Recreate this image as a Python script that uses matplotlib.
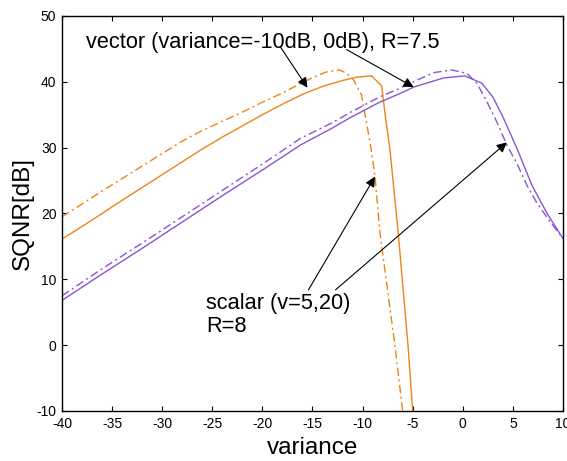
import matplotlib
matplotlib.use("Agg")
import matplotlib.pyplot as plt

plt.rcParams['font.family'] = ['Liberation Sans', 'DejaVu Sans']

# vector quantizer, variance=-10dB (orange solid)
vec_m10_x = [-40, -37, -34.2, -30, -26.2, -24, -22, -20, -18, -16, -14, -12,
             -10.6, -9.1, -8.1, -7.7, -7.26, -6.44, -5.44, -5.0]
vec_m10_y = [16.1, 19.0, 21.8, 25.9, 29.6, 31.6, 33.3, 35.0, 36.6, 38.1, 39.3, 40.2,
             40.7, 40.9, 39.4, 34.5, 29.6, 17.0, -0.5, -10.0]

# scalar quantizer v=5 (orange dash-dot)
sca_5_x = [-40, -36, -32, -28, -26, -24, -22, -20, -18, -16, -14.6, -13.6,
           -12.3, -11.6, -10.9, -10.1, -9.76, -9.26, -8.76, -8.26, -7.6, -6.77, -6.0]
sca_5_y = [19.5, 23.4, 27.2, 31.0, 32.6, 34.0, 35.4, 36.9, 38.3, 39.9, 40.9, 41.5,
           41.8, 41.3, 40.3, 38.0, 35.0, 30.9, 25.7, 17.0, 9.4, 0.0, -10.0]

# vector quantizer, variance=0dB (purple solid)
vec_0_x = [-40, -36, -32, -28, -24, -20, -16.2, -13, -11.3, -8.3,
           -6.3, -4.9, -1.9, 0.2, 1.9, 3.0, 4.0, 5.4, 6.9, 7.7, 8.5, 10]
vec_0_y = [6.8, 10.8, 14.7, 18.7, 22.7, 26.6, 30.4, 33.0, 34.5, 36.9,
           38.2, 39.2, 40.6, 40.9, 39.8, 37.7, 34.7, 29.9, 24.3, 22.0, 19.8, 16.2]

# scalar quantizer v=20 (purple dash-dot)
sca_20_x = [-40, -36, -32, -28, -24, -20, -16.2, -13, -11.3, -8.3, -6.3, -4.94,
            -2.9, -1.1, 0.4, 1.4, 2.4, 3.4, 4.4, 5.4, 6.4, 7.4, 8.5, 10]
sca_20_y = [7.5, 11.6, 15.5, 19.5, 23.5, 27.5, 31.4, 33.8, 35.3, 37.7, 39.0, 40.0,
            41.4, 41.8, 41.3, 39.8, 37.0, 33.9, 30.4, 27.6, 24.3, 21.6, 19.2, 16.2]

x_ticks = [-40, -35, -30, -25, -20, -15, -10, -5, 0, 5, 10]
y_ticks = [-10, 0, 10, 20, 30, 40, 50]

orange = '#EE8418'
purple = '#8A55D4'
dashdot = (0, (6, 2.5, 1.5, 2.5))

fig = plt.figure(figsize=(5.67, 4.61), dpi=100)
ax = fig.add_axes([0.1093, 0.1085, 0.8836, 0.8568])

ax.plot(vec_m10_x, vec_m10_y, color=orange, lw=1.0)
ax.plot(sca_5_x, sca_5_y, color=orange, lw=1.0, linestyle=dashdot)
ax.plot(vec_0_x, vec_0_y, color=purple, lw=1.0)
ax.plot(sca_20_x, sca_20_y, color=purple, lw=1.0, linestyle=dashdot)

ax.set_xlim(-40, 10)
ax.set_ylim(-10, 50)
ax.set_xticks(x_ticks)
ax.set_yticks(y_ticks)
ax.set_xticklabels([str(v) for v in x_ticks])
ax.set_yticklabels([str(v) for v in y_ticks])
ax.tick_params(direction='in', length=3.5, width=0.8, top=True, right=True,
               labelsize=10, pad=4)
for s in ax.spines.values():
    s.set_linewidth(1.0)

ax.set_xlabel('variance', fontsize=17.5, labelpad=5)
ax.set_ylabel('SQNR[dB]', fontsize=17.5, labelpad=2)

# annotations
arrow = dict(arrowstyle='-|>', color='black', lw=0.8, mutation_scale=15,
             shrinkA=0, shrinkB=0)
ax.text(-37.6, 46.0, 'vector (variance=-10dB, 0dB), R=7.5', fontsize=15.7,
        ha='left', va='center')
ax.annotate('', xy=(-15.5, 39.1), xytext=(-18.2, 45.3), arrowprops=arrow)
ax.annotate('', xy=(-4.9, 39.2), xytext=(-11.6, 44.9), arrowprops=arrow)

ax.text(-25.6, 6.3, 'scalar (v=5,20)', fontsize=15.7, ha='left', va='center')
ax.text(-25.6, 2.8, 'R=8', fontsize=15.7, ha='left', va='center')
ax.annotate('', xy=(-8.76, 25.6), xytext=(-15.4, 8.4), arrowprops=arrow)
ax.annotate('', xy=(4.4, 30.8), xytext=(-12.7, 8.4), arrowprops=arrow)

fig.savefig('out.png', dpi=100)
